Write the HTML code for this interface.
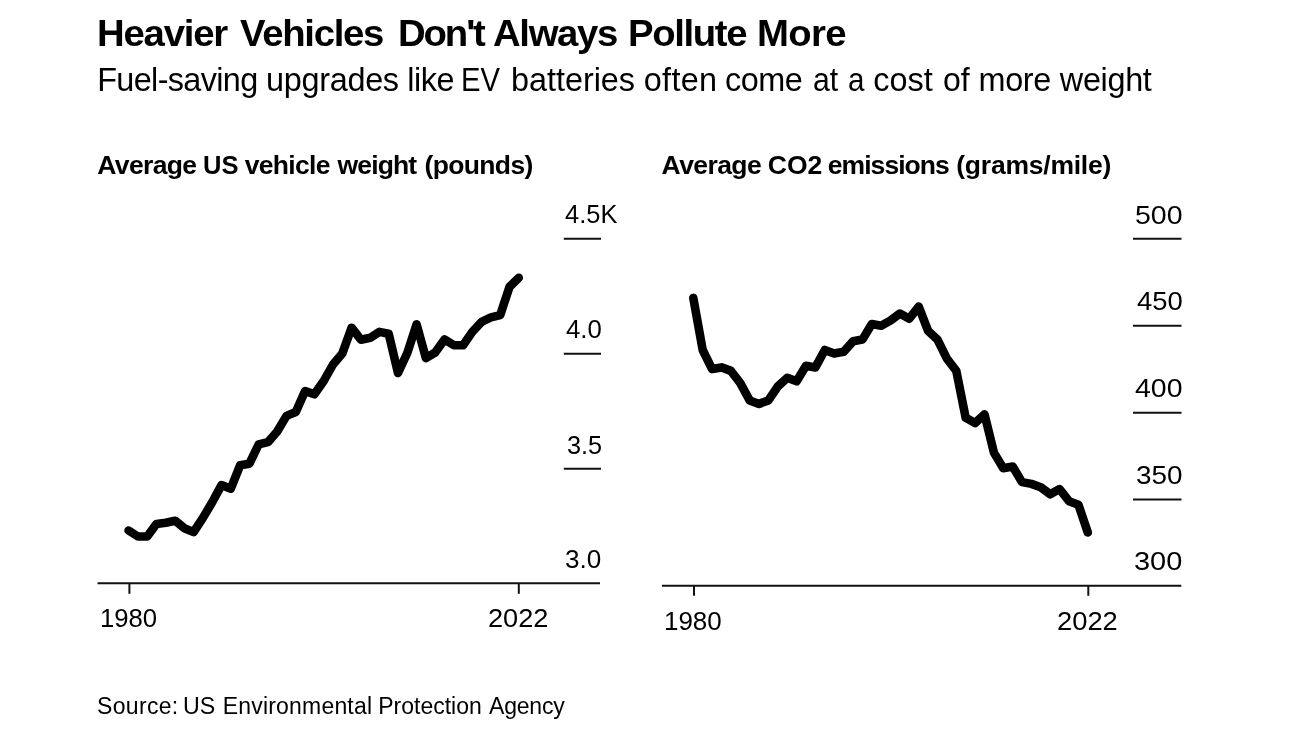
<!DOCTYPE html>
<html lang="en"><head><meta charset="utf-8"><title>Heavier Vehicles Don't Always Pollute More</title>
<style>
html,body{margin:0;padding:0;background:#fff;}
body{width:1300px;height:731px;position:relative;overflow:hidden;font-family:"Liberation Sans",sans-serif;color:#000;}
.ln{position:absolute;left:0;width:1300px;margin:0;line-height:1;white-space:nowrap;font-weight:normal;}
.ln span,.ax{position:absolute;top:0;line-height:1;white-space:nowrap;transform-origin:0 50%;}
.ax{font-size:25.5px;}
svg{position:absolute;left:0;top:0;}
</style></head><body>
<h1 class="ln" id="title" style="top:15.02px;height:37.6px;font-size:37.6px;font-weight:bold;"><span style="left:96.50px;letter-spacing:-1.185px;transform:scaleX(1.0200);">Heavier</span> <span style="left:239.50px;letter-spacing:-1.261px;transform:scaleX(1.0200);">Vehicles</span> <span style="left:397.50px;letter-spacing:-2.083px;transform:scaleX(1.0200);">Don't</span> <span style="left:493.25px;letter-spacing:-1.324px;transform:scaleX(1.0200);">Always</span> <span style="left:627.50px;letter-spacing:-1.348px;transform:scaleX(1.0200);">Pollute</span> <span style="left:757.35px;letter-spacing:-0.670px;transform:scaleX(1.0200);">More</span></h1>
<h2 class="ln" id="sub" style="top:64.17px;height:32.4px;font-size:32.4px;"><span style="left:97.22px;letter-spacing:-0.640px;">Fuel-saving</span> <span style="left:266.00px;letter-spacing:-0.286px;">upgrades</span> <span style="left:407.13px;letter-spacing:-0.400px;">like</span> <span style="left:461.12px;transform:scaleX(0.9014);">EV</span> <span style="left:511.00px;letter-spacing:-0.031px;">batteries</span> <span style="left:643.75px;letter-spacing:0.312px;">often</span> <span style="left:725.00px;letter-spacing:-0.500px;">come</span> <span style="left:812.50px;transform:scaleX(0.9314);">at</span> <span style="left:847.75px;transform:scaleX(0.9135);">a</span> <span style="left:873.25px;">cost</span> <span style="left:942.50px;transform:scaleX(0.9906);">of</span> <span style="left:978.50px;letter-spacing:-0.333px;">more</span> <span style="left:1059.85px;letter-spacing:-0.320px;">weight</span></h2>
<h3 class="ln" id="ct1" style="top:152.07px;height:26.5px;font-size:26.5px;font-weight:bold;"><span style="left:97.25px;letter-spacing:-0.625px;">Average</span> <span style="left:203.00px;transform:scaleX(0.9635);">US</span> <span style="left:244.75px;letter-spacing:-0.708px;">vehicle</span> <span style="left:337.50px;letter-spacing:-0.850px;">weight</span> <span style="left:424.50px;letter-spacing:-0.643px;">(pounds)</span></h3>
<h3 class="ln" id="ct2" style="top:152.07px;height:26.5px;font-size:26.5px;font-weight:bold;"><span style="left:661.58px;letter-spacing:-0.592px;">Average</span> <span style="left:767.75px;">CO2</span> <span style="left:827.75px;letter-spacing:-0.938px;">emissions</span> <span style="left:956.25px;letter-spacing:-0.227px;">(grams/mile)</span></h3>
<svg width="1300" height="731" viewBox="0 0 1300 731">
<g stroke="#111" stroke-width="2" fill="none">
<line x1="97.5" y1="583.3" x2="600" y2="583.3"/>
<line x1="129.4" y1="583.3" x2="129.4" y2="593.8"/>
<line x1="518.8" y1="583.3" x2="518.8" y2="593.8"/>
<line x1="563.8" y1="238.8" x2="601" y2="238.8"/>
<line x1="563.8" y1="353.8" x2="601" y2="353.8"/>
<line x1="563.8" y1="468.7" x2="601" y2="468.7"/>
<line x1="662" y1="585.8" x2="1181.3" y2="585.8"/>
<line x1="694" y1="585.8" x2="694" y2="595.8"/>
<line x1="1088.3" y1="585.8" x2="1088.3" y2="595.8"/>
<line x1="1133" y1="238.8" x2="1181.5" y2="238.8"/>
<line x1="1133" y1="325.7" x2="1181.5" y2="325.7"/>
<line x1="1133" y1="412.7" x2="1181.5" y2="412.7"/>
<line x1="1133" y1="499.6" x2="1181.5" y2="499.6"/>
</g>
<g stroke="#000" stroke-width="8.6" fill="none" stroke-linecap="round" stroke-linejoin="round">
<polyline points="128.6,530.5 137.9,536.5 147.2,536.5 156.5,523.9 165.8,522.7 175.1,520.7 184.3,528.2 193.6,532.1 202.9,517.9 212.2,502.3 221.5,485.1 230.8,488.7 240.1,465.3 249.4,463.7 258.7,444.4 268.0,442.1 277.2,431.5 286.5,415.9 295.8,412.0 305.1,391.1 314.4,394.3 323.7,381.0 333.0,364.5 342.3,353.5 351.6,327.7 360.9,339.7 370.2,337.8 379.4,331.9 388.7,333.7 398.0,373.0 407.3,353.0 416.6,324.3 425.9,358.1 435.2,352.5 444.5,339.5 453.8,345.2 463.1,345.2 472.3,331.9 481.6,321.8 490.9,317.4 500.2,315.1 509.5,286.9 518.8,277.7"/>
<polyline points="693.3,297.9 702.7,350.0 712.1,369.1 721.5,367.4 730.9,370.9 740.3,383.1 749.7,400.4 759.0,403.9 768.4,400.4 777.8,386.5 787.2,377.8 796.6,381.3 806.0,365.7 815.4,367.4 824.8,350.0 834.2,353.5 843.6,351.8 853.0,341.3 862.4,339.6 871.8,324.0 881.2,325.7 890.5,320.5 899.9,313.5 909.3,318.7 918.7,306.6 928.1,330.9 937.5,339.6 946.9,358.7 956.3,370.9 965.7,417.8 975.1,423.0 984.5,414.3 993.9,452.6 1003.3,468.2 1012.7,466.5 1022.0,482.1 1031.4,483.9 1040.8,487.3 1050.2,494.3 1059.6,489.1 1069.0,501.2 1078.4,504.7 1087.8,532.5"/>
</g>
</svg>
<p class="ln" id="src" style="top:694.73px;height:23px;font-size:23px;"><span style="left:97.00px;letter-spacing:0.333px;">Source:</span> <span style="left:183.25px;transform:scaleX(1.0085);">US</span> <span style="left:222.75px;letter-spacing:0.188px;">Environmental</span> <span style="left:378.25px;">Protection</span> <span style="left:489.00px;letter-spacing:-0.200px;">Agency</span></p>
<div class="ax" id="l45" style="top:202.31px;left:565.38px;transform:scaleX(0.9981);">4.5K</div>
<div class="ax" id="l40" style="top:317.21px;left:565.65px;transform:scaleX(1.0088);">4.0</div>
<div class="ax" id="l35" style="top:432.81px;left:566.60px;transform:scaleX(0.9910);">3.5</div>
<div class="ax" id="l30" style="top:546.81px;left:565.15px;transform:scaleX(1.0239);">3.0</div>
<div class="ax" id="lx0" style="top:606.21px;left:99.70px;transform:scaleX(1.0074);">1980</div>
<div class="ax" id="lx1" style="top:606.21px;left:488.25px;transform:scaleX(1.0654);">2022</div>
<div class="ax" id="r500" style="top:202.51px;left:1135.00px;transform:scaleX(1.1185);">500</div>
<div class="ax" id="r450" style="top:289.21px;left:1136.97px;transform:scaleX(1.0756);">450</div>
<div class="ax" id="r400" style="top:376.01px;left:1135.00px;transform:scaleX(1.1159);">400</div>
<div class="ax" id="r350" style="top:463.21px;left:1136.00px;transform:scaleX(1.0938);">350</div>
<div class="ax" id="r300" style="top:549.31px;left:1134.00px;transform:scaleX(1.1358);">300</div>
<div class="ax" id="rx0" style="top:608.81px;left:663.50px;transform:scaleX(1.0177);">1980</div>
<div class="ax" id="rx1" style="top:608.81px;left:1056.88px;transform:scaleX(1.0710);">2022</div>
</body></html>
